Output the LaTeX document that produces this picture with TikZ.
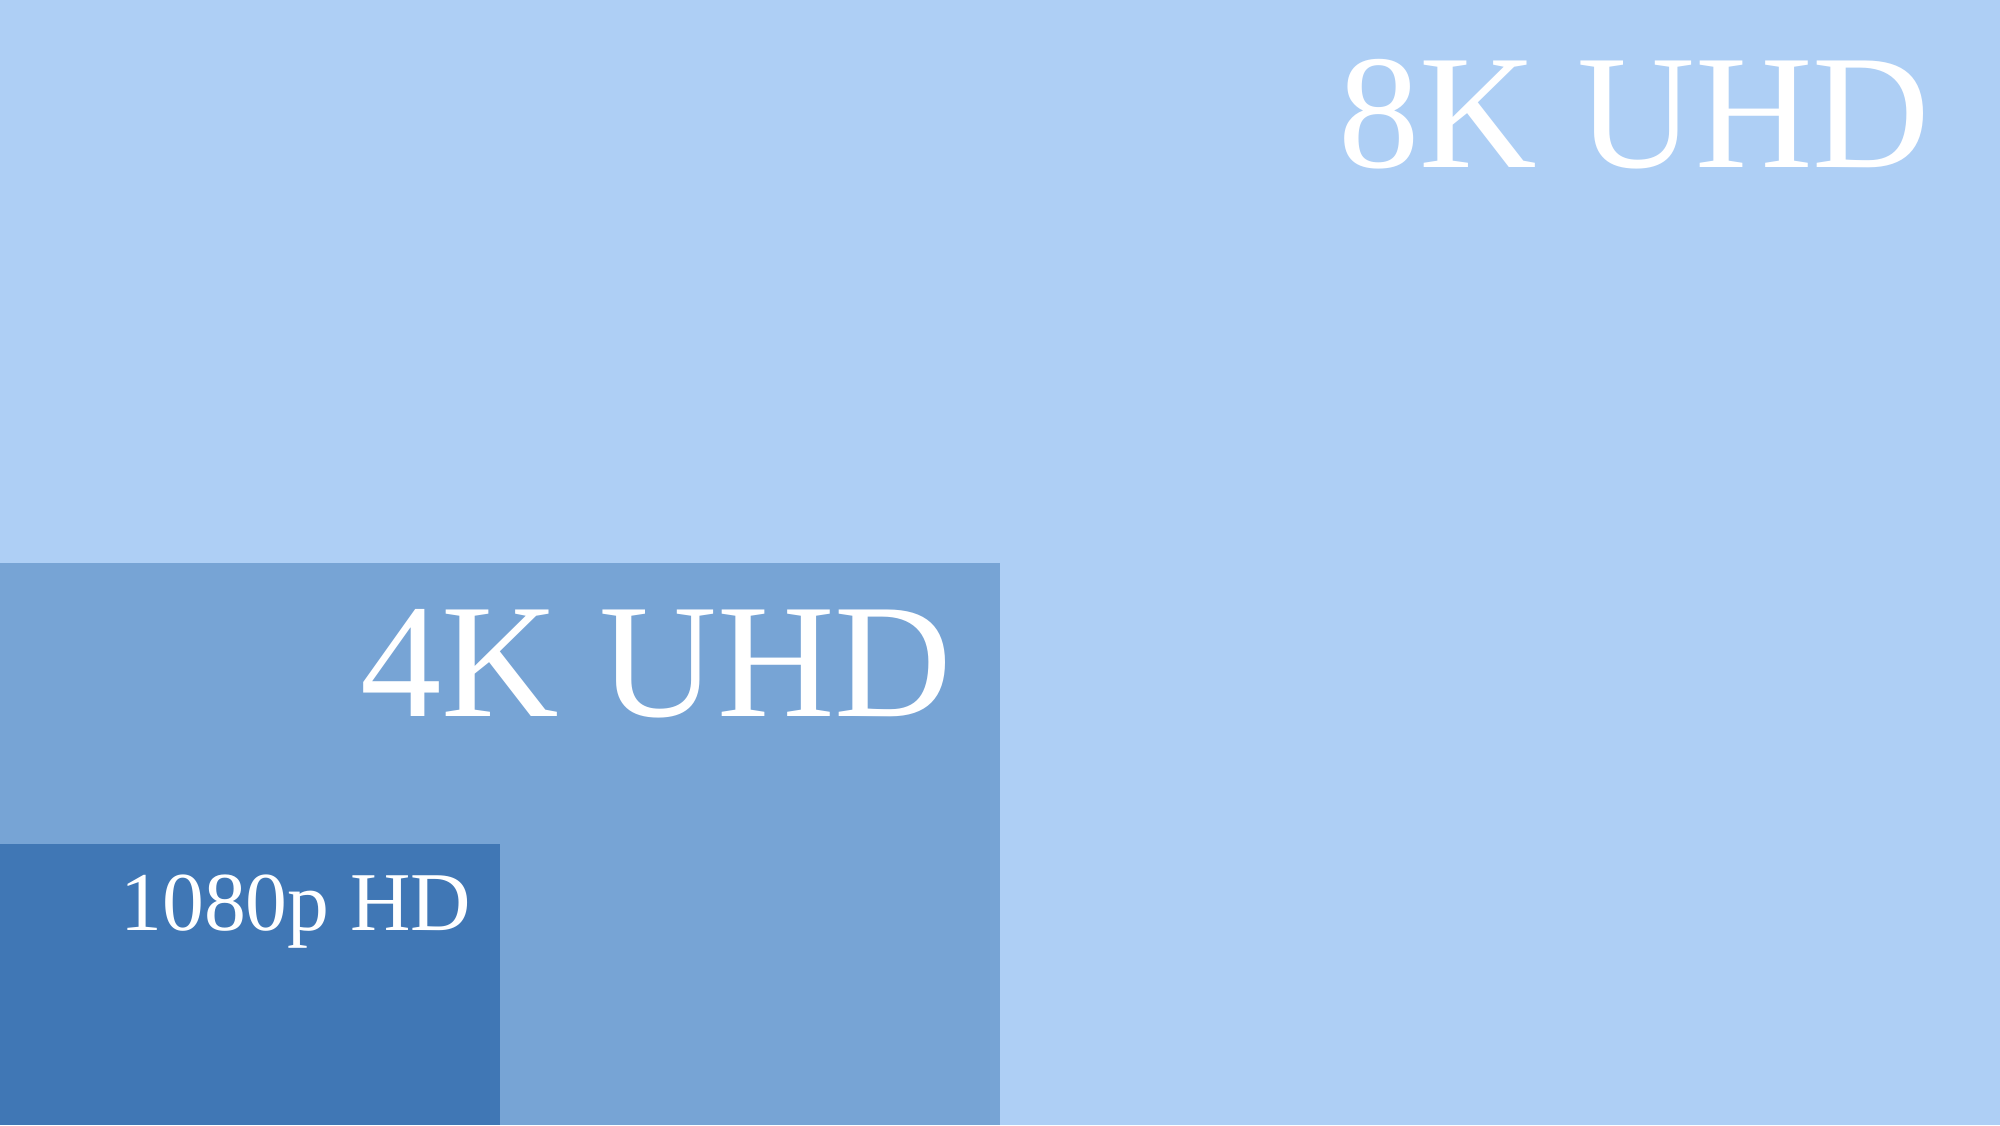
\documentclass[tikz,border=0pt]{standalone}
\usepackage{fontspec}
\setmainfont{Liberation Serif}
\definecolor{bgk}{HTML}{AECFF5}
\definecolor{fourk}{HTML}{77A4D5}
\definecolor{hd}{HTML}{4077B5}
\begin{document}
\begin{tikzpicture}[
  lbl/.style={text=white, inner sep=0pt, anchor=base east}
]
\useasboundingbox (0,0) rectangle (20,11.25);
\fill[bgk] (0,0) rectangle (20,11.25);
\fill[fourk] (0,0) rectangle (10,5.625);
\fill[hd] (0,0) rectangle (5,2.8125);
\node[lbl, font=\fontsize{46.3}{52}\selectfont] (l8k) at (19.31,9.57) {8K UHD};
\node[lbl, font=\fontsize{46.3}{52}\selectfont] (l4k) at (9.53,4.09) {4K UHD};
\node[lbl, font=\fontsize{23.8}{28}\selectfont] (lhd) at (4.72,1.95) {1080p HD};
\end{tikzpicture}
\end{document}
